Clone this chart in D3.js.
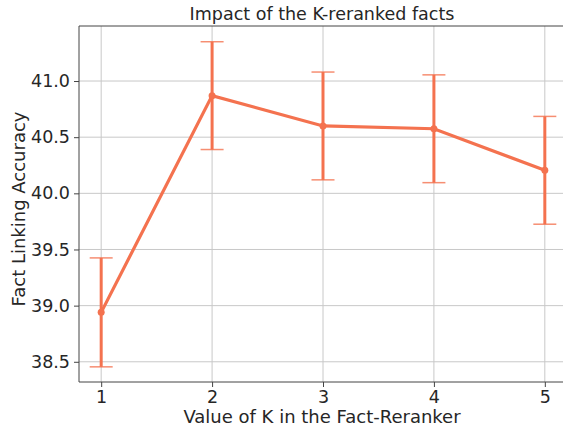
<!DOCTYPE html>
<html>
<head>
<meta charset="utf-8">
<script src="https://cdn.jsdelivr.net/npm/d3@7"></script>
<style>
body { margin: 0; background: #fff; }
svg { display: block; overflow: hidden; font-family: "DejaVu Sans", sans-serif; }
.grid line { stroke: #c8c8c8; stroke-width: 1; }
.axis line { stroke: #444; }
</style>
</head>
<body>
<svg id="chart" width="563" height="428"></svg>
<script>
var kValues = [1, 2, 3, 4, 5];
var accuracy = [38.94, 40.87, 40.60, 40.575, 40.205];
var errors = [0.485, 0.48, 0.48, 0.48, 0.48];
var yTicks = [38.5, 39.0, 39.5, 40.0, 40.5, 41.0];

var lineColor = "#f4724f";

var svg = d3.select("#chart");
var plotLeft = 79, plotTop = 26, plotRight = 567, plotBottom = 382;

var x = d3.scaleLinear().domain([0.8, 5.2]).range([plotLeft, plotRight]);
var y = d3.scaleLinear().domain([38.32, 41.49]).range([plotBottom, plotTop]);

// grid
var grid = svg.append("g").attr("class", "grid");
grid.selectAll(".gx").data(kValues).enter().append("line")
    .attr("x1", function(d) { return x(d) }).attr("x2", function(d) { return x(d) })
    .attr("y1", plotTop).attr("y2", plotBottom);
grid.selectAll(".gy").data(yTicks).enter().append("line")
    .attr("x1", plotLeft).attr("x2", plotRight)
    .attr("y1", function(d) { return y(d) }).attr("y2", function(d) { return y(d) });

// axes
var xAxis = svg.append("g").attr("class", "axis")
    .attr("transform", "translate(0," + plotBottom + ")")
    .call(d3.axisBottom(x).tickValues(kValues).tickFormat(d3.format("d")).tickSizeOuter(0).tickSize(5).tickPadding(4));
var yAxis = svg.append("g").attr("class", "axis")
    .attr("transform", "translate(" + plotLeft + ",0)")
    .call(d3.axisLeft(y).tickValues(yTicks).tickFormat(d3.format(".1f")).tickSizeOuter(0).tickSize(5).tickPadding(4));
svg.selectAll(".axis").attr("font-size", null).attr("font-family", null);
svg.selectAll(".axis .domain").remove();
svg.selectAll(".axis text").style("font-size", "17.5px").attr("fill", "#262626");

// spines
var spines = [[plotLeft, plotTop, plotRight, plotTop], [plotLeft, plotBottom, plotRight, plotBottom],
              [plotLeft, plotTop, plotLeft, plotBottom]];
svg.selectAll(".spine").data(spines).enter().append("line")
    .attr("x1", function(d) { return d[0] }).attr("y1", function(d) { return d[1] })
    .attr("x2", function(d) { return d[2] }).attr("y2", function(d) { return d[3] })
    .attr("stroke", "#444").attr("stroke-width", 1);

// error bars
var bars = svg.append("g");
bars.selectAll(".eb").data(kValues).enter().append("line")
    .attr("x1", function(d) { return x(d) }).attr("x2", function(d) { return x(d) })
    .attr("y1", function(d, i) { return y(accuracy[i] - errors[i]) })
    .attr("y2", function(d, i) { return y(accuracy[i] + errors[i]) })
    .attr("stroke", lineColor).attr("stroke-width", 3);
[-1, 1].forEach(function(s) {
    bars.selectAll(".cap" + s).data(kValues).enter().append("line")
        .attr("x1", function(d) { return x(d) - 11.5 }).attr("x2", function(d) { return x(d) + 11.5 })
        .attr("y1", function(d, i) { return y(accuracy[i] + s * errors[i]) })
        .attr("y2", function(d, i) { return y(accuracy[i] + s * errors[i]) })
        .attr("stroke", lineColor).attr("stroke-opacity", 0.8).attr("stroke-width", 1.5);
});

// line
var line = d3.line().x(function(d, i) { return x(kValues[i]) }).y(function(d) { return y(d) });
svg.append("path").datum(accuracy).attr("d", line)
    .attr("fill", "none").attr("stroke", lineColor).attr("stroke-width", 3.2);
svg.selectAll(".pt").data(accuracy).enter().append("circle")
    .attr("cx", function(d, i) { return x(kValues[i]) }).attr("cy", function(d) { return y(d) })
    .attr("r", 3.5).attr("fill", lineColor);

// labels
svg.append("text").attr("x", 322).attr("y", 20).attr("text-anchor", "middle")
    .attr("font-size", 17.5).attr("fill", "#262626").text("Impact of the K-reranked facts");
svg.append("text").attr("x", 322).attr("y", 423).attr("text-anchor", "middle")
    .attr("font-size", 18).attr("fill", "#262626").text("Value of K in the Fact-Reranker");
svg.append("text").attr("transform", "translate(25,209) rotate(-90)")
    .attr("text-anchor", "middle").attr("font-size", 18).attr("fill", "#262626")
    .text("Fact Linking Accuracy");
</script>
</body>
</html>
